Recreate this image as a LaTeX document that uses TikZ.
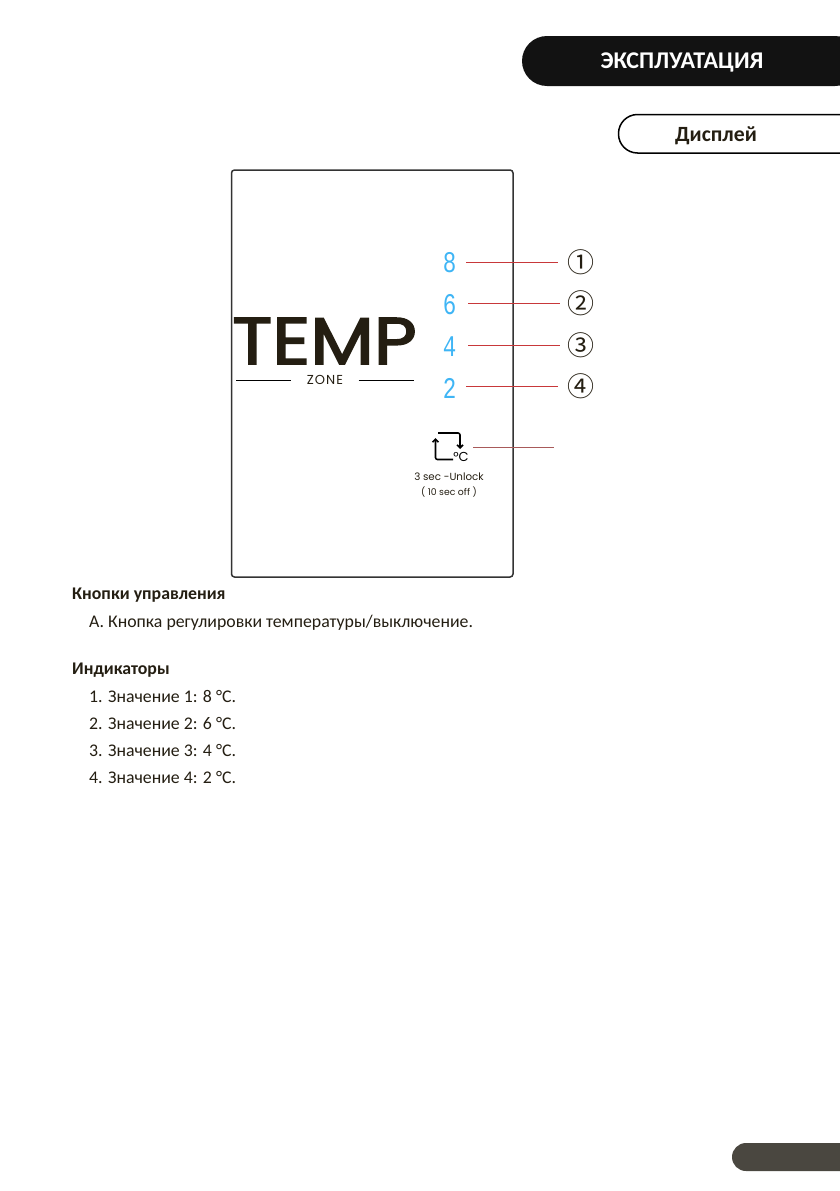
\documentclass[tikz,border=0pt]{standalone}
\usepackage{fontspec}
\setmainfont{Carlito}
\newfontfamily\tempfont[FakeBold=2.4]{Poppins}
\newfontfamily\zonefont{Poppins}
\newfontfamily\zonewide[LetterSpace=8]{Poppins}
\newfontfamily\digitfont{Liberation Mono}
\newfontfamily\circfont{Noto Sans CJK JP}
\usetikzlibrary{arrows.meta}
\definecolor{digitblue}{HTML}{3FB5F5}
\definecolor{leaderred}{HTML}{C8383A}
\definecolor{lockred}{HTML}{A85A5A}
\definecolor{pagetab}{HTML}{4A4740}
\definecolor{inktext}{HTML}{241E12}
\tikzset{
	bodytext/.style={anchor=base west,inner sep=0pt,text=inktext,font=\fontsize{17.8}{20}\selectfont},
	headtext/.style={bodytext,font=\fontsize{17.8}{20}\selectfont\bfseries},
	redline/.style={draw=leaderred,line width=0.8pt},
	digitnode/.style={inner sep=0pt,text=digitblue,font=\fontsize{30}{30}\digitfont\selectfont},
	circnode/.style={inner sep=0pt,text=inktext,font=\fontsize{27}{27}\circfont\selectfont},
	zonetext/.style={inner sep=0pt,text=inktext,font=\fontsize{10.3}{12}\zonefont\selectfont},
}
\begin{document}
\begin{tikzpicture}[x=1pt,y=-1pt]
\useasboundingbox (0,0) rectangle (839,1191);
% tabs
\fill[black!93,rounded corners=25pt] (860,36) -- (522,36) -- (522,86) -- (860,86) -- cycle;
\node (tabmain) [inner sep=0pt,text=white,font=\fontsize{24}{26}\selectfont\bfseries] at (682,62.5) {ЭКСПЛУАТАЦИЯ};
\draw[line width=1.5pt,rounded corners=19pt] (860,114.5) -- (618.5,114.5) -- (618.5,153) -- (860,153);
\node (tabsub) [inner sep=0pt,text=inktext,font=\fontsize{21.7}{25}\selectfont\bfseries] at (716,135.5) {Дисплей};
\fill[pagetab,rounded corners=14pt] (860,1143) -- (732,1143) -- (732,1171) -- (860,1171) -- cycle;
% panel
\draw[line width=1.5pt,draw=black!80,rounded corners=3pt] (231.5,170) rectangle (513,577);
\node (temp) [inner sep=0pt,text=inktext,xscale=1.12,text height=46pt,text depth=0pt,font=\fontsize{66}{70}\tempfont\selectfont] at (324.5,341) {TEMP};
\node (zone) [zonetext,minimum width=67pt,font=\fontsize{13}{13}\zonewide\selectfont] at (325,380) {ZONE};
\coordinate (zoneleft) at (236,380);
\coordinate (zoneright) at (414,380);
\draw[line width=0.8pt] (zoneleft) -- (zone.west);
\draw[line width=0.8pt] (zone.east) -- (zoneright);
% indicators
\foreach \d/\n/\yd/\yl/\dw/\nw in {8/①/263/262/33/46,6/②/305/303/37/42,4/③/347/345/37/42,2/④/388/386/33/46}{
	\node (dig\d) [digitnode,minimum width=\dw pt] at (449.5,\yd) {\scalebox{0.75}[1]{\d}};
	\node (num\d) [circnode,minimum width=\nw pt] at (581,\yl) {\n};
	\draw[redline] (dig\d.east |- num\d.west) -- (num\d.west);
}
% lock button
\node (lockicon) [minimum width=38pt,minimum height=30pt,inner sep=0pt] at (454,447) {};
\coordinate (lockend) at (554,447);
\draw[draw=lockred,line width=0.8pt] (lockicon.east) -- (lockend);
\draw[line width=1.6pt,rounded corners=2pt,-{Straight Barb[length=3pt,width=6pt]}] (453,459.5) -- (435.5,459.5) -- (435.5,438);
\draw[line width=1.6pt,rounded corners=2pt,-{Straight Barb[length=3pt,width=6pt]}] (438,433) -- (460,433) -- (460,449);
\node (lockunit) [inner sep=0pt,font=\fontsize{13}{13}\zonefont\selectfont] at (461,457) {°C};
\node (unlock) [zonetext] at (449,477) {3 sec -Unlock};
\node (offtime) [zonetext,font=\fontsize{9.3}{11}\zonefont\selectfont] at (449,492) {( 10 sec off )};
% legend
\node (headkeys) [headtext] at (72,599) {Кнопки управления};
\node (keya) [bodytext] at (89,627) {А. Кнопка регулировки температуры/выключение.};
\node (headind) [headtext] at (72,674) {Индикаторы};
\foreach \i/\v/\y in {1/8/702,2/6/729,3/4/756,4/2/783}{
	\node (item\i) [bodytext] at (89,\y) {\i. Значение \i: \v{} °C.};
}
\end{tikzpicture}
\end{document}
